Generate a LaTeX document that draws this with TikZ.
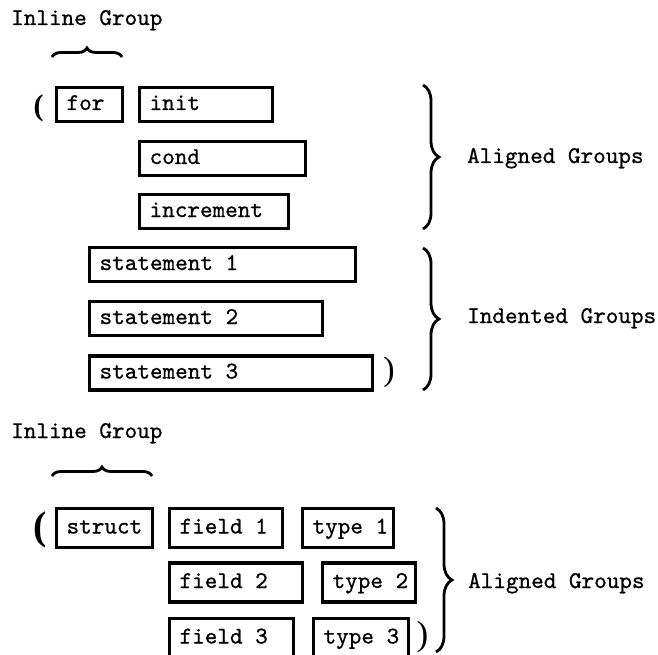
\documentclass[tikz,border=0pt]{standalone}
\usepackage{fontspec}
\newfontfamily\codefont{lmmono10-regular.otf}[FakeBold=0.8]
\newfontfamily\parenfont{Liberation Serif}
\usetikzlibrary{decorations.pathreplacing}
\newcommand{\fixw}[2]{\makebox[#1pt][l]{#2}}
\begin{document}
\begin{tikzpicture}[x=1pt,y=-1pt,
  box/.style={draw, line width=3.2pt, anchor=west, inner xsep=10.5pt, inner ysep=0pt,
    minimum height=34pt, text height=15pt, text depth=4pt,
    font=\codefont\fontsize{24}{28}\selectfont},
  tallbox/.style={box, minimum height=39pt},
  lbl/.style={anchor=base west, inner sep=0pt, font=\codefont\fontsize{24}{28}\selectfont},
  hbrace/.style={decorate, decoration={brace, amplitude=9pt}, line width=2.8pt},
  vbrace/.style={decorate, decoration={brace, amplitude=16pt}, line width=2.8pt},
  lparen/.style={inner sep=0pt, font=\parenfont\bfseries\fontsize{#1}{#1}\selectfont},
  rparen/.style={inner sep=0pt, font=\parenfont\fontsize{#1}{#1}\selectfont},
]
\useasboundingbox (0,0) rectangle (658,655);

% ---------- top part ----------
\node[lbl] (il1) at (11,25) {Inline Group};
\coordinate (hb1a) at (52,57);
\coordinate (hb1b) at (122,57);
\draw[hbrace] (hb1a) -- (hb1b);

\node[lparen=30] (lp1) at (38.5,108) {(};
\node[box] (for)  at (54.5,104.5) {\fixw{45}{for}};
\node[box] (init) at (137.5,104.5) {\fixw{112}{init}};
\node[box] (cond) at (137.5,158.5) {\fixw{145}{cond}};
\node[box] (incr) at (137.5,211.5) {\fixw{128}{increment}};
\node[box] (s1) at (87.5,264.5) {\fixw{245}{statement 1}};
\node[box] (s2) at (87.5,318.5) {\fixw{212}{statement 2}};
\node[box] (s3) at (87.5,373) {\fixw{262}{statement 3}};
\node[rparen=34] (rp1) at (389,372.5) {)};

\coordinate (vb1a) at (423,85);
\coordinate (vb1b) at (423,229);
\draw[vbrace] (vb1a) -- (vb1b);
\node[lbl] (ag1) at (467,163) {Aligned Groups};

\coordinate (vb2a) at (423,248);
\coordinate (vb2b) at (423,390);
\draw[vbrace] (vb2a) -- (vb2b);
\node[lbl] (ig) at (467,323) {Indented Groups};

% ---------- bottom part ----------
\node[lbl] (il2) at (11,438) {Inline Group};
\coordinate (hb2a) at (52,476);
\coordinate (hb2b) at (152,476);
\draw[hbrace] (hb2a) -- (hb2b);

\node[lparen=40] (lp2) at (40,530) {(};
\node[tallbox] (struct) at (54.5,528) {\fixw{75}{struct}};
\node[tallbox] (f1) at (167.5,528) {\fixw{92}{field 1}};
\node[tallbox] (f2) at (167.5,582.5) {\fixw{112}{field 2}};
\node[tallbox] (f3) at (167.5,638) {\fixw{103}{field 3}};
\node[tallbox] (t1) at (300.5,528) {\fixw{70}{type 1}};
\node[tallbox] (t2) at (320.5,582.5) {\fixw{72}{type 2}};
\node[tallbox] (t3) at (311.5,638) {\fixw{74}{type 3}};
\node[rparen=35] (rp2) at (422.5,637) {)};

\coordinate (vb3a) at (436,508);
\coordinate (vb3b) at (436,652);
\draw[vbrace] (vb3a) -- (vb3b);
\node[lbl] (ag2) at (468,588) {Aligned Groups};
\end{tikzpicture}
\end{document}
